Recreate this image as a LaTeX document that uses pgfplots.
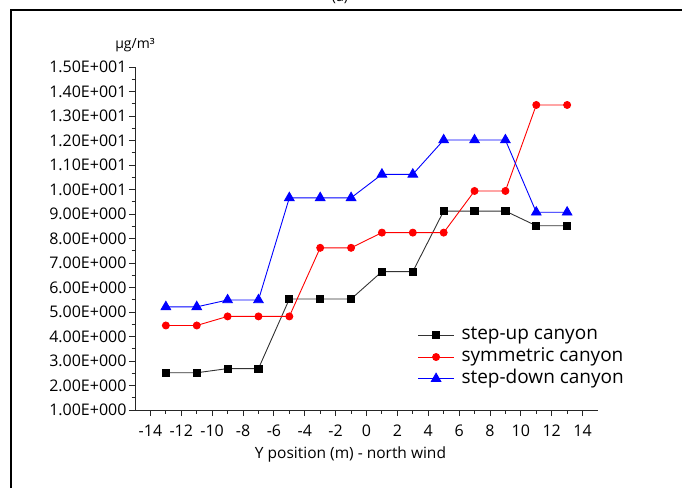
\documentclass[border=0pt]{standalone}
\usepackage{fontspec}
\setmainfont{Open Sans}
\usepackage{pgfplots}
\pgfplotsset{compat=1.18}

\begin{document}
\begin{tikzpicture}[x=1pt,y=1pt]
\useasboundingbox (0,0) rectangle (682,488);
% outer frame (only left and top edges visible)
\draw[line width=1.8pt] (11,0) -- (11,478) -- (682,478);
\node[anchor=base, font=\fontsize{14}{16}\selectfont] at (340,486) {(a)};

\begin{axis}[
    at={(135pt,78pt)}, anchor=south west,
    scale only axis, width=463pt, height=343pt,
    xmin=-15, xmax=15, ymin=1, ymax=15,
    axis lines=left,
    axis line style={-, line width=1pt, black!85},
    tick align=outside,
    tick style={line width=0.9pt, black!85},
    major tick length=6pt, minor tick length=3.5pt,
    xtick={-14,-12,...,14},
    xticklabels={-14,-12,-10,-8,-6,-4,-2,0,2,4,6,8,10,12,14},
    minor xtick={-13,-11,...,13},
    ytick={1,2,...,15},
    yticklabels={1.00E+000,2.00E+000,3.00E+000,4.00E+000,5.00E+000,6.00E+000,7.00E+000,8.00E+000,9.00E+000,1.00E+001,1.10E+001,1.20E+001,1.30E+001,1.40E+001,1.50E+001},
    minor ytick={1.5,2.5,...,14.5},
    ticklabel style={font=\fontsize{16}{18}\selectfont},
    yticklabel style={xshift=1pt},
    xticklabel style={yshift=-5pt},
    xlabel={Y position (m) - north wind},
    xlabel style={font=\fontsize{15.5}{17}\selectfont, xshift=-16pt, yshift=-4pt},
    legend style={at={(0.61,0.246)}, anchor=north west, draw=none, fill=none,
        font=\fontsize{19}{21}\selectfont, row sep=2.7pt, inner sep=0pt,
        nodes={inner sep=0pt, text height=14pt, text depth=5pt},
        /tikz/every odd column/.append style={column sep=7pt}},
    legend cell align=left,
    legend image code/.code={\draw[mark repeat=2, mark phase=2, #1]
        plot coordinates {(0pt,0pt) (18pt,0pt) (36pt,0pt)};},
    clip=false,
]
\addplot[black!80, line width=0.9pt, mark=square*, mark size=3.6pt,
    mark options={fill=black, draw=black}] coordinates {
    (-13,2.52) (-11,2.52) (-9,2.69) (-7,2.69) (-5,5.53) (-3,5.53) (-1,5.53)
    (1,6.65) (3,6.65) (5,9.12) (7,9.12) (9,9.12) (11,8.52) (13,8.52)};
\addplot[red, line width=0.9pt, mark=*, mark size=3.5pt,
    mark options={fill=red, draw=red}] coordinates {
    (-13,4.45) (-11,4.45) (-9,4.82) (-7,4.82) (-5,4.82) (-3,7.62) (-1,7.62)
    (1,8.24) (3,8.24) (5,8.24) (7,9.94) (9,9.94) (11,13.45) (13,13.45)};
\addplot[blue, line width=0.9pt, mark=triangle*, mark size=5.5pt,
    mark options={fill=blue, draw=blue}] coordinates {
    (-13,5.21) (-11,5.21) (-9,5.49) (-7,5.49) (-5,9.66) (-3,9.66) (-1,9.66)
    (1,10.62) (3,10.62) (5,12.02) (7,12.02) (9,12.02) (11,9.07) (13,9.07)};
\legend{step-up canyon, symmetric canyon, step-down canyon}
\node[anchor=base, font=\fontsize{14}{16}\selectfont] at ([yshift=18pt]rel axis cs:0,1) {µg/m³};
\end{axis}
\end{tikzpicture}
\end{document}
